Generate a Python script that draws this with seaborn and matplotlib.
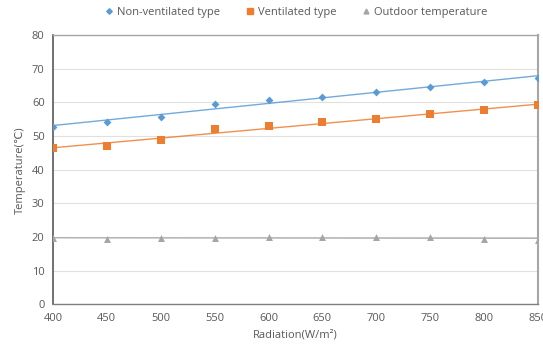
import numpy as np
import pandas as pd
import matplotlib
matplotlib.use("Agg")
import matplotlib.pyplot as plt
import seaborn as sns

radiation = [400, 450, 500, 550, 600, 650, 700, 750, 800, 850]
non_ventilated = [52.6, 54.1, 55.7, 59.6, 60.8, 61.7, 63.0, 64.6, 66.0, 67.3]
ventilated = [46.5, 47.1, 48.7, 52.1, 53.1, 54.1, 55.0, 56.7, 57.7, 59.1]
outdoor = [19.6, 19.5, 19.8, 19.8, 20.0, 20.0, 20.0, 20.0, 19.5, 19.1]

series_names = ["Non-ventilated type", "Ventilated type", "Outdoor temperature"]
colors = ["#5B9BD5", "#ED7D31", "#A5A5A5"]
markers = ["D", "s", "^"]
msizes = [4, 5.5, 5]

sns.set_theme(style="white")
plt.rcParams["font.family"] = ["Open Sans", "DejaVu Sans"]

fig = plt.figure(figsize=(5.43, 3.51), dpi=100)
ax = fig.add_axes([0.0976, 0.1325, 0.893, 0.7675])

for name, vals, c, m, ms in zip(series_names, [non_ventilated, ventilated, outdoor], colors, markers, msizes):
    df = pd.DataFrame({"x": radiation, "y": vals})
    sns.regplot(data=df, x="x", y="y", ax=ax, ci=None, truncate=True, marker=m,
                scatter_kws=dict(s=ms**2, color=c, zorder=3, linewidths=0, alpha=1),
                line_kws=dict(color=c, lw=1.0, alpha=0.85, zorder=2))
    ax.plot([], [], marker=m, ms=ms, color=c, ls="none", label=name)

ax.set_xlim(400, 850)
ax.set_ylim(0, 80)
ax.set_xticks(range(400, 851, 50))
ax.set_yticks(range(0, 81, 10))
ax.yaxis.grid(True, color="#E0E0E0", lw=0.8)
ax.set_axisbelow(True)

for side, col, lw in [("left", "#595959", 1.2), ("bottom", "#7F7F7F", 1.0),
                      ("top", "#A6A6A6", 1.0), ("right", "#A6A6A6", 1.5)]:
    ax.spines[side].set_color(col)
    ax.spines[side].set_linewidth(lw)
    ax.spines[side].set_visible(True)

ax.tick_params(axis="both", labelsize=8, colors="#595959", length=0, pad=6)
ax.set_xlabel("Radiation(W/m²)", fontsize=8, color="#595959", labelpad=4)
ax.set_ylabel("Temperature(℃)", fontsize=8, color="#595959", labelpad=4)

leg = ax.legend(loc="lower center", bbox_to_anchor=(0.5, 1.025), ncol=3, frameon=False,
                fontsize=8, handletextpad=0.2, columnspacing=2.2, handlelength=1.0,
                markerscale=0.7)
for t in leg.get_texts():
    t.set_color("#595959")

fig.savefig("out.png", dpi=100)
